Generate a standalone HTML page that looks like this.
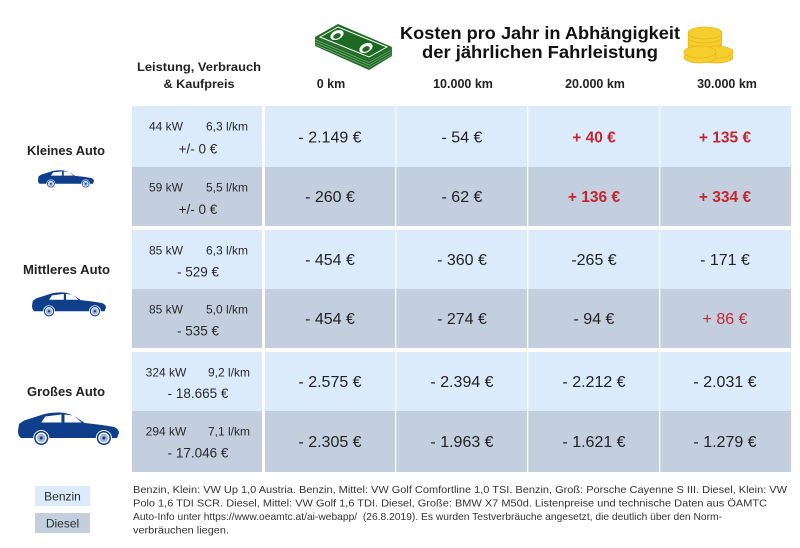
<!DOCTYPE html>
<html><head><meta charset="utf-8"><style>
html,body{margin:0;padding:0;background:#fff;}
svg{display:block;}
text{font-family:"Liberation Sans",sans-serif;}
</style></head><body>
<svg width="800" height="548" viewBox="0 0 800 548" xmlns="http://www.w3.org/2000/svg">
<defs>
<g id="car">
<path d="M1 12 L6 8.5 L20 4 Q30 0 42 0.5 Q52 1 60 7 L66 11 Q85 13 95 15 Q100 17 100 21 L98 26 L93 26 A8 8 0 0 0 77 26 L31 26 A8 8 0 0 0 15 26 L3 26 Q0 24 0 19 Z" fill="#0f3e8a"/>
<polygon points="27,4.5 43,2.5 43,10.5 23,10.5" fill="#fff"/>
<polygon points="46,2.5 55,3.5 63,10.5 46,10.5" fill="#fff"/>
<circle cx="23" cy="26" r="7" fill="#0f3e8a"/><circle cx="23" cy="26" r="5.5" fill="#fff"/><circle cx="23" cy="26" r="4.2" fill="#9fb3d6"/><circle cx="23" cy="26" r="1.5" fill="#0f3e8a"/>
<circle cx="85" cy="26" r="7" fill="#0f3e8a"/><circle cx="85" cy="26" r="5.5" fill="#fff"/><circle cx="85" cy="26" r="4.2" fill="#9fb3d6"/><circle cx="85" cy="26" r="1.5" fill="#0f3e8a"/>
</g>
</defs>

<!-- Title -->
<text x="540" y="39" text-anchor="middle" font-size="17.5" font-weight="bold" fill="#111" textLength="280" lengthAdjust="spacingAndGlyphs">Kosten pro Jahr in Abhängigkeit</text>
<text x="540" y="58" text-anchor="middle" font-size="17.5" font-weight="bold" fill="#111" textLength="236" lengthAdjust="spacingAndGlyphs">der jährlichen Fahrleistung</text>

<!-- Money icon -->
<polygon points="315,37 369,60 392,47 392,56 369,70 315,46" fill="#1d6a22"/>
<g stroke="#7fb184" stroke-width="0.7" fill="none">
<polyline points="315,39.5 369,62.5 392,49.5"/>
<polyline points="315,42 369,65 392,52"/>
<polyline points="315,44.5 369,67.5 392,54.5"/>
</g>
<polygon points="315,37 338,24 392,47 369,60" fill="#1d6a22"/>
<polygon points="320,37 338,27 387,47 369,57" fill="none" stroke="#fff" stroke-width="1"/>
<ellipse cx="337" cy="35" rx="7" ry="4.5" fill="#fff" transform="rotate(-25 337 35)"/>
<ellipse cx="337" cy="36" rx="4" ry="2.5" fill="#1d6a22" transform="rotate(-25 337 36)"/>
<ellipse cx="366" cy="48" rx="7" ry="4.5" fill="#fff" transform="rotate(-25 366 48)"/>
<ellipse cx="366" cy="49" rx="4" ry="2.5" fill="#1d6a22" transform="rotate(-25 366 49)"/>

<!-- Coins -->
<g fill="#f6cf2c" stroke="#e6b51c" stroke-width="0.8">
<rect x="688" y="33" width="34" height="14" fill="#f6cf2c" stroke="none"/>
<ellipse cx="705" cy="47" rx="17" ry="6"/>
<ellipse cx="705" cy="42" rx="17" ry="6"/>
<ellipse cx="705" cy="37" rx="17" ry="6"/>
<ellipse cx="705" cy="33" rx="17" ry="6"/>
<ellipse cx="716" cy="57" rx="17" ry="6"/>
<ellipse cx="716" cy="52" rx="17" ry="6"/>
<ellipse cx="700" cy="57" rx="16" ry="6"/>
<ellipse cx="700" cy="52" rx="16" ry="6"/>
</g>

<!-- Column headers -->
<text x="199" y="71" text-anchor="middle" font-size="12" font-weight="bold" fill="#222" textLength="124" lengthAdjust="spacingAndGlyphs">Leistung, Verbrauch</text>
<text x="199" y="88" text-anchor="middle" font-size="12" font-weight="bold" fill="#222" textLength="71" lengthAdjust="spacingAndGlyphs">&amp; Kaufpreis</text>
<g font-size="12.5" font-weight="bold" fill="#222" text-anchor="middle">
<text x="331" y="88">0 km</text>
<text x="463" y="88">10.000 km</text>
<text x="595" y="88">20.000 km</text>
<text x="727" y="88">30.000 km</text>
</g>

<!-- Table backgrounds -->
<g>
<rect x="132" y="106" width="659" height="61" fill="#dcebfc"/>
<rect x="132" y="167" width="659" height="59" fill="#c3cfdf"/>
<rect x="132" y="230" width="659" height="59" fill="#dcebfc"/>
<rect x="132" y="289" width="659" height="59" fill="#c3cfdf"/>
<rect x="132" y="352" width="659" height="59" fill="#dcebfc"/>
<rect x="132" y="411" width="659" height="61" fill="#c3cfdf"/>
<rect x="262" y="100" width="3" height="380" fill="#fff"/>
<rect x="395" y="100" width="1.3" height="380" fill="#fff"/>
<rect x="527" y="100" width="1.3" height="380" fill="#fff"/>
<rect x="659" y="100" width="1.3" height="380" fill="#fff"/>
</g>

<!-- Left labels and cars -->
<g font-size="13" font-weight="bold" fill="#222" text-anchor="middle">
<text x="66" y="155" textLength="78" lengthAdjust="spacingAndGlyphs">Kleines Auto</text>
<text x="66.5" y="274" textLength="87" lengthAdjust="spacingAndGlyphs">Mittleres Auto</text>
<text x="66" y="396" textLength="78" lengthAdjust="spacingAndGlyphs">Großes Auto</text>
</g>
<use href="#car" transform="translate(38,170) scale(0.56,0.53)"/>
<use href="#car" transform="translate(32,292) scale(0.74,0.74)"/>
<use href="#car" transform="translate(18,412) scale(1.01,1.0)"/>

<!-- Spec column -->
<g font-size="12" fill="#2a2a2a" text-anchor="middle">
<text x="166" y="130.5">44 kW</text><text x="227" y="130.5">6,3 l/km</text>
<text x="166" y="191.5">59 kW</text><text x="227" y="191.5">5,5 l/km</text>
<text x="166" y="254.5">85 kW</text><text x="227" y="254.5">6,3 l/km</text>
<text x="166" y="313.5">85 kW</text><text x="227" y="313.5">5,0 l/km</text>
<text x="166" y="376.5">324 kW</text><text x="229" y="376.5">9,2 l/km</text>
<text x="166" y="435.5">294 kW</text><text x="229" y="435.5">7,1 l/km</text>
</g>
<g font-size="13.5" fill="#2a2a2a" text-anchor="middle">
<text x="198" y="153.5">+/- 0 €</text>
<text x="198" y="214">+/- 0 €</text>
<text x="198" y="276.5">- 529 €</text>
<text x="198" y="335.5">- 535 €</text>
<text x="198" y="398">- 18.665 €</text>
<text x="198" y="457.5">- 17.046 €</text>
</g>

<!-- Values -->
<g font-size="16" fill="#222" text-anchor="middle">
<text x="330" y="142.5">- 2.149 €</text>
<text x="462" y="142.5">- 54 €</text>
<text x="330" y="202">- 260 €</text>
<text x="462" y="202">- 62 €</text>
<text x="330" y="265">- 454 €</text>
<text x="462" y="265">- 360 €</text>
<text x="594" y="265">-265 €</text>
<text x="725" y="265">- 171 €</text>
<text x="330" y="324">- 454 €</text>
<text x="462" y="324">- 274 €</text>
<text x="594" y="324">- 94 €</text>
<text x="725" y="324" fill="#c4262e">+ 86 €</text>
<text x="330" y="387">- 2.575 €</text>
<text x="462" y="387">- 2.394 €</text>
<text x="594" y="387">- 2.212 €</text>
<text x="725" y="387">- 2.031 €</text>
<text x="330" y="447">- 2.305 €</text>
<text x="462" y="447">- 1.963 €</text>
<text x="594" y="447">- 1.621 €</text>
<text x="725" y="447">- 1.279 €</text>
</g>
<g font-size="15.5" font-weight="bold" fill="#c4262e" text-anchor="middle">
<text x="594" y="142.5">+ 40 €</text>
<text x="725" y="142.5">+ 135 €</text>
<text x="594" y="202">+ 136 €</text>
<text x="725" y="202">+ 334 €</text>
</g>

<!-- Legend -->
<rect x="35" y="486" width="55" height="20" fill="#dcebfc"/>
<rect x="35" y="513" width="55" height="20" fill="#c3cfdf"/>
<text x="62.5" y="500.5" text-anchor="middle" font-size="12" fill="#2a2a2a">Benzin</text>
<text x="62.5" y="527.5" text-anchor="middle" font-size="12" fill="#2a2a2a">Diesel</text>

<!-- Footnote -->
<g font-size="10.5" fill="#333">
<text x="133" y="493" textLength="654" lengthAdjust="spacingAndGlyphs">Benzin, Klein: VW Up 1,0 Austria. Benzin, Mittel: VW Golf Comfortline 1,0 TSI. Benzin, Groß: Porsche Cayenne S III. Diesel, Klein: VW</text>
<text x="133" y="506.5" textLength="634" lengthAdjust="spacingAndGlyphs">Polo 1,6 TDI SCR. Diesel, Mittel: VW Golf 1,6 TDI. Diesel, Große: BMW X7 M50d. Listenpreise und technische Daten aus ÖAMTC</text>
<text x="133" y="520" textLength="589" lengthAdjust="spacingAndGlyphs" xml:space="preserve">Auto-Info unter https://www.oeamtc.at/ai-webapp/  (26.8.2019). Es wurden Testverbräuche angesetzt, die deutlich über den Norm-</text>
<text x="133" y="533.5" textLength="96" lengthAdjust="spacingAndGlyphs">verbräuchen liegen.</text>
</g>
</svg>
</body></html>
